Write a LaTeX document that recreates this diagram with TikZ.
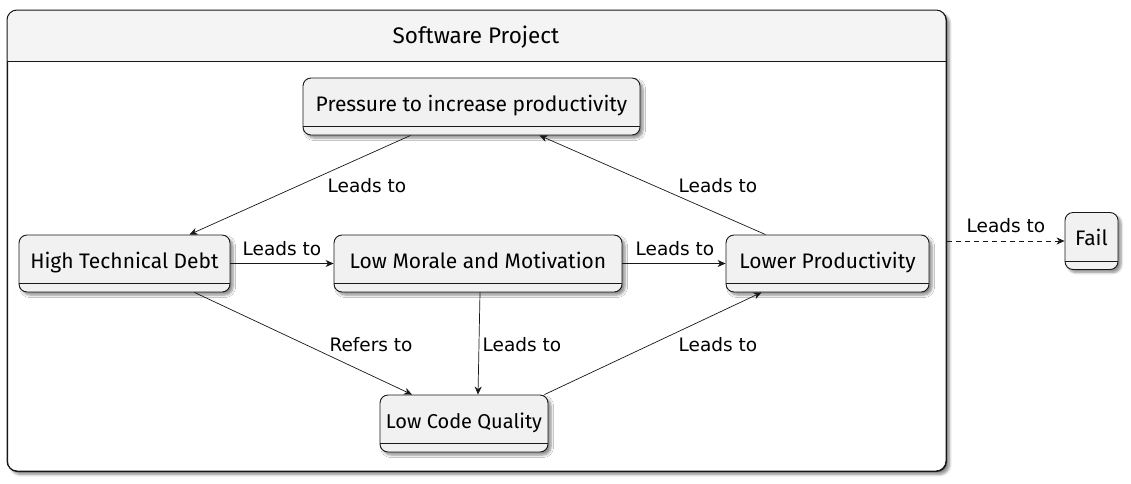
\documentclass[tikz,border=0pt]{standalone}
\usepackage{fontspec}
\setmainfont{DejaVu Sans}
\newfontfamily\handfont{Fira Sans}
\usetikzlibrary{arrows.meta,shadows.blur,calc}
\definecolor{boxfill}{HTML}{F1F1F1}
\definecolor{titlefill}{HTML}{F4F4F4}
\definecolor{linec}{HTML}{181818}
\begin{document}
\begin{tikzpicture}[x=1pt,y=-1pt,
  shad/.style={blur shadow={shadow xshift=3pt,shadow yshift=-3pt,shadow blur steps=6,shadow opacity=45,shadow blur radius=2.5pt}},
  statebox/.style={draw=linec,line width=0.9pt,fill=boxfill,rounded corners=8pt,shad,
    inner xsep=0pt,inner ysep=0pt,text height=33pt,text depth=24pt,
    font=\handfont\fontsize{21}{23}\selectfont},
  sepline/.style={draw=linec,line width=0.9pt},
  container/.style={draw=linec,line width=1pt,fill=white,rounded corners=10pt,shad,inner sep=0pt},
  lbl/.style={font=\fontsize{18.5}{20}\selectfont,inner sep=0pt,text=black},
  edge/.style={draw=linec,line width=0.7pt,-{Stealth[length=8pt,width=7pt,inset=2.5pt]}}
]
\useasboundingbox (0,0) rectangle (1131,483);

% container
\node[container,minimum width=939pt,minimum height=461pt,anchor=north west] (proj) at (7,10) {};
\begin{scope}
  \clip[rounded corners=10pt] (7,10) rectangle (946,471);
  \fill[titlefill] (7,10) rectangle (946,61);
\end{scope}
\draw[draw=linec,line width=1pt,rounded corners=10pt] (7,10) rectangle (946,471);
\draw[sepline,line width=1pt] (7,61) -- (946,61);
\node[font=\handfont\fontsize{22.5}{24}\selectfont,inner sep=0pt] (title) at (476,37) {Software Project};

% states
\node[statebox,minimum width=337pt] (p) at (471.5,106.5) {Pressure to increase productivity};
\node[statebox,minimum width=211pt] (h) at (124.5,263.5) {High Technical Debt};
\node[statebox,minimum width=288pt] (m) at (478,263.5) {Low Morale and Motivation};
\node[statebox,minimum width=203pt] (l) at (827.5,263.5) {Lower Productivity};
\node[statebox,minimum width=168pt,font=\handfont\fontsize{20}{22}\selectfont] (q) at (464,423.5) {Low Code Quality};
\node[statebox,minimum width=53pt] (f) at (1091.5,241) {Fail};

\foreach \n in {p,h,m,l,q,f}
  \draw[sepline] ([yshift=9pt]\n.south west) -- ([yshift=9pt]\n.south east);

% edges
\draw[edge] ([xshift=-61pt]p.south) -- ([xshift=65pt]h.north)
  node[lbl,at={(367,186)}] {Leads to};
\draw[edge] ([xshift=-62pt]l.north) -- ([xshift=68pt]p.south)
  node[lbl,at={(718,186)}] {Leads to};
\draw[edge] (h.east) -- (m.west)
  node[lbl,at={(282,249)}] {Leads to};
\draw[edge] (m.east) -- (l.west)
  node[lbl,at={(675,249)}] {Leads to};
\draw[edge] ([xshift=70pt]h.south) -- ([xshift=-52pt]q.north)
  node[lbl,at={(371,345)}] {Refers to};
\draw[edge] ([xshift=2pt]m.south) -- ([xshift=14pt]q.north)
  node[lbl,at={(522,345)}] {Leads to};
\draw[edge] ([xshift=-4pt]q.north east) -- ([xshift=-66pt]l.south)
  node[lbl,at={(718,345)}] {Leads to};
\draw[edge,dashed,dash pattern=on 5pt off 4pt] (proj.east |- f.west) -- (f.west)
  node[lbl,at={(1006,226)}] {Leads to};
\end{tikzpicture}
\end{document}
